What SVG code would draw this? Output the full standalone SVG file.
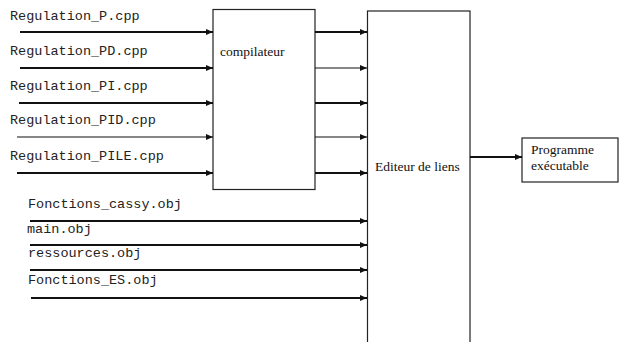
<svg xmlns="http://www.w3.org/2000/svg" width="619" height="342" viewBox="0 0 619 342">
<defs>
<style>
.box{fill:#fff;stroke:#222;stroke-width:1.2}
.mono{font-family:"Liberation Mono","DejaVu Sans Mono",monospace;font-size:13.5px;fill:#222}
.serif{font-family:"Liberation Serif","DejaVu Serif",serif;font-size:13.5px;fill:#111}
.thick{stroke:#111;stroke-width:2;fill:none}
.thin{stroke:#111;stroke-width:1.2;fill:none}
</style>
<marker id="ah" markerUnits="userSpaceOnUse" markerWidth="8" markerHeight="8" viewBox="0 0 8 8" refX="7" refY="4" orient="auto">
<path d="M0,1 L7,4 L0,7 Z" fill="#111"/>
</marker>
</defs>
<rect width="619" height="342" fill="#fff"/>
<g id="compilateur">
<rect class="box" x="213" y="9.5" width="102" height="180"/>
<text class="serif" x="220" y="56">compilateur</text>
</g>
<g id="editeur">
<rect class="box" x="367.5" y="11" width="102.5" height="340"/>
<text class="serif" x="375" y="171">Editeur de liens</text>
</g>
<g id="programme">
<rect class="box" x="522" y="138" width="96" height="44"/>
<text class="serif" x="531" y="154">Programme</text>
<text class="serif" x="531" y="170">exécutable</text>
</g>
<g id="labels">
<text class="mono" x="10" y="20">Regulation_P.cpp</text>
<text class="mono" x="10" y="55">Regulation_PD.cpp</text>
<text class="mono" x="10" y="90">Regulation_PI.cpp</text>
<text class="mono" x="10" y="124">Regulation_PID.cpp</text>
<text class="mono" x="10" y="160">Regulation_PILE.cpp</text>
<text class="mono" x="28" y="208">Fonctions_cassy.obj</text>
<text class="mono" x="27" y="233">main.obj</text>
<text class="mono" x="28" y="257">ressources.obj</text>
<text class="mono" x="28" y="284">Fonctions_ES.obj</text>
</g>
<g id="connectors">
<line class="thick" x1="20" y1="32" x2="213" y2="32" marker-end="url(#ah)"/>
<line class="thick" x1="20" y1="68" x2="213" y2="68" marker-end="url(#ah)"/>
<line class="thick" x1="19" y1="103" x2="213" y2="103" marker-end="url(#ah)"/>
<line class="thin" x1="17" y1="137" x2="213" y2="137" marker-end="url(#ah)"/>
<line class="thick" x1="17" y1="173" x2="213" y2="173" marker-end="url(#ah)"/>
<line class="thick" x1="315" y1="32" x2="367" y2="32" marker-end="url(#ah)"/>
<line class="thin" x1="315" y1="68" x2="367" y2="68" marker-end="url(#ah)"/>
<line class="thick" x1="315" y1="103" x2="367" y2="103" marker-end="url(#ah)"/>
<line class="thin" x1="315" y1="137" x2="367" y2="137" marker-end="url(#ah)"/>
<line class="thick" x1="315" y1="173" x2="367" y2="173" marker-end="url(#ah)"/>
<line class="thick" x1="30" y1="221" x2="367" y2="221" marker-end="url(#ah)"/>
<line class="thick" x1="30" y1="245" x2="367" y2="245" marker-end="url(#ah)"/>
<line class="thick" x1="30" y1="270" x2="367" y2="270" marker-end="url(#ah)"/>
<line class="thick" x1="31" y1="298" x2="367" y2="298" marker-end="url(#ah)"/>
<line class="thick" x1="470" y1="157" x2="522" y2="157" marker-end="url(#ah)"/>
</g>
</svg>
